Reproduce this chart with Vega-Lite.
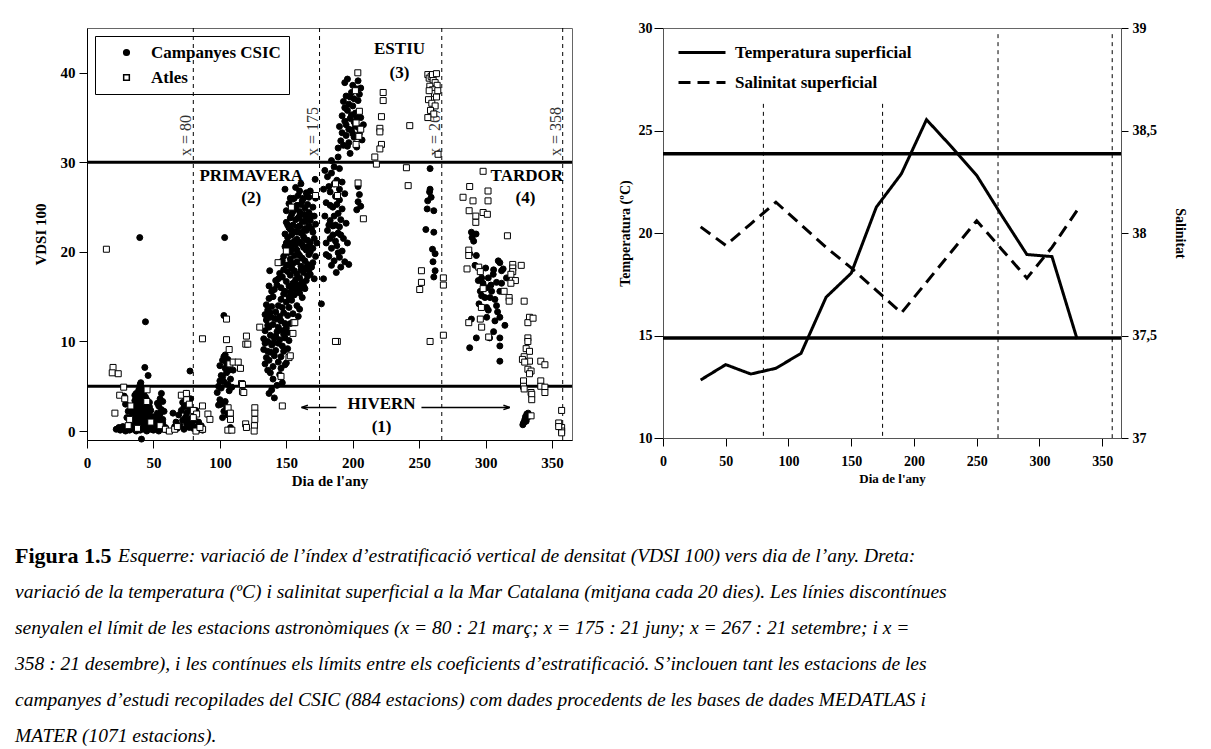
{
"$schema": "https://vega.github.io/schema/vega-lite/v6.json",
"background": "white",
"padding": {"left": 15, "top": 20, "right": 5, "bottom": 5},
"config": {
 "font": "Liberation Serif",
 "view": {"stroke": "#666", "strokeWidth": 1},
 "axis": {"grid": false, "labelFont": "Liberation Serif", "titleFont": "Liberation Serif", "labelFontWeight": "bold", "titleFontWeight": "bold", "domainColor": "black", "tickColor": "black", "labelColor": "black", "titleColor": "black", "labelFlush": false, "labelOverlap": false},
 "legend": {"labelFont": "Liberation Serif", "labelFontWeight": "bold", "labelColor": "black", "labelLimit": 400}
},
"resolve": {"scale": {"shape": "independent", "fill": "independent", "strokeDash": "independent"}, "legend": {"shape": "independent", "fill": "independent", "strokeDash": "independent"}},
"datasets": {
 "st": [
{"d":22,"v":0.2,"g":"C"},{"d":24,"v":0.4,"g":"C"},{"d":25,"v":0.1,"g":"C"},{"d":26,"v":0.3,"g":"C"},{"d":27,"v":0.5,"g":"C"},{"d":28,"v":0.2,"g":"C"},{"d":29,"v":0.0,"g":"C"},{"d":30,"v":0.4,"g":"C"},{"d":31,"v":0.6,"g":"C"},{"d":32,"v":0.1,"g":"C"},{"d":33,"v":0.3,"g":"C"},{"d":34,"v":0.8,"g":"C"},{"d":35,"v":0.2,"g":"C"},{"d":36,"v":0.5,"g":"C"},{"d":37,"v":0.0,"g":"C"},{"d":38,"v":0.7,"g":"C"},{"d":39,"v":0.3,"g":"C"},{"d":40,"v":0.1,"g":"C"},{"d":41,"v":-0.9,"g":"C"},{"d":42,"v":0.4,"g":"C"},{"d":43,"v":0.2,"g":"C"},{"d":44,"v":0.6,"g":"C"},{"d":45,"v":0.0,"g":"C"},{"d":46,"v":0.3,"g":"C"},{"d":47,"v":0.8,"g":"C"},{"d":48,"v":0.2,"g":"C"},{"d":49,"v":0.5,"g":"C"},{"d":50,"v":0.1,"g":"C"},{"d":51,"v":0.4,"g":"C"},{"d":52,"v":0.7,"g":"C"},{"d":53,"v":0.2,"g":"C"},{"d":54,"v":0.0,"g":"C"},{"d":55,"v":0.5,"g":"C"},{"d":56,"v":0.3,"g":"C"},{"d":57,"v":0.6,"g":"C"},{"d":58,"v":0.2,"g":"C"},{"d":59,"v":0.4,"g":"C"},{"d":60,"v":0.1,"g":"C"},
{"d":35,"v":1.2,"g":"C"},{"d":35,"v":2.5,"g":"C"},{"d":36,"v":1.8,"g":"C"},{"d":36,"v":3.4,"g":"C"},{"d":37,"v":2.1,"g":"C"},{"d":37,"v":4.2,"g":"C"},{"d":38,"v":1.0,"g":"C"},{"d":38,"v":2.9,"g":"C"},{"d":38,"v":3.8,"g":"C"},{"d":39,"v":1.5,"g":"C"},{"d":39,"v":2.6,"g":"C"},{"d":39,"v":4.6,"g":"C"},{"d":40,"v":0.9,"g":"C"},{"d":40,"v":2.2,"g":"C"},{"d":40,"v":3.3,"g":"C"},{"d":40,"v":5.2,"g":"C"},{"d":41,"v":1.7,"g":"C"},{"d":41,"v":2.8,"g":"C"},{"d":41,"v":4.0,"g":"C"},{"d":42,"v":1.1,"g":"C"},{"d":42,"v":2.4,"g":"C"},{"d":42,"v":3.6,"g":"C"},{"d":43,"v":1.9,"g":"C"},{"d":43,"v":3.0,"g":"C"},{"d":43,"v":4.4,"g":"C"},{"d":44,"v":1.3,"g":"C"},{"d":44,"v":2.7,"g":"C"},{"d":45,"v":2.0,"g":"C"},{"d":45,"v":3.5,"g":"C"},{"d":46,"v":1.4,"g":"C"},{"d":46,"v":2.6,"g":"C"},{"d":47,"v":1.8,"g":"C"},{"d":47,"v":3.2,"g":"C"},{"d":48,"v":2.3,"g":"C"},{"d":49,"v":1.1,"g":"C"},{"d":50,"v":1.6,"g":"C"},{"d":36,"v":0.9,"g":"C"},{"d":37,"v":1.5,"g":"C"},{"d":38,"v":0.5,"g":"C"},{"d":39,"v":0.7,"g":"C"},
{"d":36,"v":2.0,"g":"C"},{"d":38,"v":3.2,"g":"C"},{"d":40,"v":4.0,"g":"C"},{"d":41,"v":3.5,"g":"C"},{"d":42,"v":2.0,"g":"C"},{"d":43,"v":2.6,"g":"C"},{"d":44,"v":3.8,"g":"C"},{"d":45,"v":1.5,"g":"C"},{"d":46,"v":2.1,"g":"C"},{"d":47,"v":2.7,"g":"C"},{"d":39,"v":3.6,"g":"C"},{"d":37,"v":2.8,"g":"C"},{"d":36,"v":4.0,"g":"C"},{"d":42,"v":4.8,"g":"C"},{"d":44,"v":1.9,"g":"C"},{"d":40,"v":1.3,"g":"C"},{"d":41,"v":0.6,"g":"C"},{"d":43,"v":0.9,"g":"C"},{"d":45,"v":0.7,"g":"C"},{"d":47,"v":1.2,"g":"C"},{"d":49,"v":0.9,"g":"C"},{"d":51,"v":1.1,"g":"C"},{"d":53,"v":0.8,"g":"C"},{"d":55,"v":1.2,"g":"C"},{"d":57,"v":0.9,"g":"C"},
{"d":52,"v":1.2,"g":"C"},{"d":53,"v":2.0,"g":"C"},{"d":54,"v":2.8,"g":"C"},{"d":55,"v":3.6,"g":"C"},{"d":56,"v":4.2,"g":"C"},{"d":54,"v":1.5,"g":"C"},{"d":56,"v":2.4,"g":"C"},{"d":57,"v":1.3,"g":"C"},{"d":53,"v":3.1,"g":"C"},{"d":55,"v":1.9,"g":"C"},{"d":57,"v":3.3,"g":"C"},{"d":58,"v":2.2,"g":"C"},
{"d":28,"v":3.9,"g":"C"},{"d":29,"v":3.0,"g":"C"},{"d":30,"v":1.5,"g":"C"},{"d":31,"v":2.2,"g":"C"},{"d":32,"v":1.4,"g":"C"},{"d":33,"v":2.5,"g":"C"},{"d":34,"v":1.9,"g":"C"},
{"d":39.7,"v":21.6,"g":"C"},{"d":44,"v":12.2,"g":"C"},{"d":43.5,"v":7.1,"g":"C"},{"d":46,"v":6.2,"g":"C"},{"d":40.5,"v":5.4,"g":"C"},
{"d":66,"v":0.5,"g":"C"},{"d":67,"v":1.0,"g":"C"},{"d":68,"v":0.3,"g":"C"},{"d":69,"v":1.8,"g":"C"},{"d":70,"v":0.6,"g":"C"},{"d":71,"v":2.3,"g":"C"},{"d":72,"v":1.2,"g":"C"},{"d":72,"v":3.2,"g":"C"},{"d":73,"v":0.2,"g":"C"},{"d":73,"v":2.7,"g":"C"},{"d":74,"v":1.5,"g":"C"},{"d":74,"v":3.8,"g":"C"},{"d":75,"v":0.8,"g":"C"},{"d":75,"v":2.0,"g":"C"},{"d":75,"v":4.2,"g":"C"},{"d":76,"v":1.1,"g":"C"},{"d":76,"v":3.0,"g":"C"},{"d":77,"v":0.4,"g":"C"},{"d":77,"v":2.4,"g":"C"},{"d":78,"v":3.6,"g":"C"},{"d":78,"v":1.4,"g":"C"},{"d":79,"v":0.7,"g":"C"},{"d":80,"v":0.3,"g":"C"},{"d":81,"v":1.2,"g":"C"},{"d":82,"v":2.3,"g":"C"},{"d":83,"v":0.5,"g":"C"},{"d":84,"v":1.0,"g":"C"},{"d":85,"v":0.2,"g":"C"},{"d":86,"v":0.6,"g":"C"},{"d":87,"v":0.1,"g":"C"},{"d":77.5,"v":6.7,"g":"C"},{"d":64.7,"v":2.0,"g":"C"},
{"d":98,"v":4.3,"g":"C"},{"d":99,"v":5.0,"g":"C"},{"d":100,"v":5.6,"g":"C"},{"d":100,"v":7.3,"g":"C"},{"d":101,"v":6.2,"g":"C"},{"d":101,"v":4.8,"g":"C"},{"d":102,"v":7.9,"g":"C"},{"d":102,"v":6.0,"g":"C"},{"d":103,"v":8.3,"g":"C"},{"d":103,"v":5.5,"g":"C"},{"d":104,"v":7.0,"g":"C"},{"d":104,"v":8.5,"g":"C"},{"d":105,"v":6.5,"g":"C"},{"d":105,"v":7.6,"g":"C"},{"d":106,"v":5.2,"g":"C"},{"d":106,"v":8.0,"g":"C"},{"d":107,"v":6.8,"g":"C"},{"d":104,"v":3.3,"g":"C"},{"d":103,"v":2.2,"g":"C"},{"d":102,"v":1.5,"g":"C"},{"d":105,"v":2.6,"g":"C"},{"d":107,"v":4.5,"g":"C"},{"d":108,"v":5.8,"g":"C"},{"d":103.6,"v":21.6,"g":"C"},{"d":103,"v":12.9,"g":"C"},{"d":100,"v":3.5,"g":"C"},{"d":101,"v":3.0,"g":"C"},{"d":106,"v":1.8,"g":"C"},{"d":108,"v":0.4,"g":"C"},{"d":110,"v":6.8,"g":"C"},{"d":109,"v":4.9,"g":"C"},{"d":99,"v":2.9,"g":"C"},
{"d":137,"v":4.2,"g":"C"},{"d":139,"v":4.6,"g":"C"},{"d":141,"v":3.7,"g":"C"},{"d":143,"v":5.1,"g":"C"},{"d":140,"v":5.8,"g":"C"},{"d":145,"v":6.3,"g":"C"},{"d":138,"v":6.5,"g":"C"},{"d":147,"v":5.4,"g":"C"},{"d":146,"v":7.0,"g":"C"},{"d":149,"v":7.4,"g":"C"},{"d":136,"v":6.8,"g":"C"},
{"d":134,"v":7.5,"g":"C"},{"d":135,"v":8.2,"g":"C"},{"d":137,"v":7.9,"g":"C"},{"d":138,"v":8.8,"g":"C"},{"d":140,"v":7.2,"g":"C"},{"d":141,"v":8.4,"g":"C"},{"d":142,"v":9.0,"g":"C"},{"d":144,"v":7.7,"g":"C"},{"d":146,"v":8.3,"g":"C"},{"d":148,"v":8.9,"g":"C"},{"d":150,"v":7.6,"g":"C"},{"d":151,"v":9.2,"g":"C"},{"d":147,"v":9.5,"g":"C"},{"d":139,"v":9.6,"g":"C"},{"d":133,"v":9.1,"g":"C"},
{"d":133,"v":10.3,"g":"C"},{"d":134,"v":11.2,"g":"C"},{"d":136,"v":10.0,"g":"C"},{"d":137,"v":11.6,"g":"C"},{"d":138,"v":10.7,"g":"C"},{"d":140,"v":11.9,"g":"C"},{"d":141,"v":10.4,"g":"C"},{"d":143,"v":11.1,"g":"C"},{"d":145,"v":10.2,"g":"C"},{"d":148,"v":10.8,"g":"C"},{"d":150,"v":11.5,"g":"C"},{"d":152,"v":10.1,"g":"C"},{"d":153,"v":12.0,"g":"C"},{"d":146,"v":12.3,"g":"C"},{"d":135,"v":12.4,"g":"C"},
{"d":134,"v":13.0,"g":"C"},{"d":135,"v":14.1,"g":"C"},{"d":136,"v":13.5,"g":"C"},{"d":137,"v":14.8,"g":"C"},{"d":138,"v":12.7,"g":"C"},{"d":139,"v":13.9,"g":"C"},{"d":140,"v":15.0,"g":"C"},{"d":142,"v":13.3,"g":"C"},{"d":148,"v":13.2,"g":"C"},{"d":150,"v":14.4,"g":"C"},{"d":151,"v":12.9,"g":"C"},{"d":152,"v":13.8,"g":"C"},{"d":154,"v":14.6,"g":"C"},{"d":155,"v":13.1,"g":"C"},{"d":156,"v":15.2,"g":"C"},{"d":158,"v":14.0,"g":"C"},{"d":160,"v":13.6,"g":"C"},{"d":162,"v":14.9,"g":"C"},{"d":159,"v":12.8,"g":"C"},{"d":157,"v":15.8,"g":"C"},{"d":153,"v":15.5,"g":"C"},
{"d":141,"v":15.8,"g":"C"},{"d":143,"v":16.3,"g":"C"},{"d":146,"v":16.0,"g":"C"},{"d":147,"v":17.2,"g":"C"},{"d":149,"v":15.6,"g":"C"},{"d":150,"v":16.7,"g":"C"},{"d":151,"v":17.8,"g":"C"},{"d":152,"v":16.2,"g":"C"},{"d":153,"v":17.4,"g":"C"},{"d":155,"v":16.5,"g":"C"},{"d":156,"v":17.9,"g":"C"},{"d":157,"v":16.9,"g":"C"},{"d":158,"v":17.5,"g":"C"},{"d":159,"v":16.3,"g":"C"},{"d":160,"v":17.1,"g":"C"},{"d":161,"v":18.0,"g":"C"},{"d":162,"v":16.6,"g":"C"},{"d":163,"v":17.7,"g":"C"},{"d":164,"v":15.9,"g":"C"},{"d":165,"v":16.8,"g":"C"},{"d":166,"v":17.3,"g":"C"},{"d":154,"v":18.2,"g":"C"},{"d":148,"v":18.0,"g":"C"},{"d":137.5,"v":17.9,"g":"C"},{"d":144,"v":17.0,"g":"C"},
{"d":146,"v":18.8,"g":"C"},{"d":148,"v":19.5,"g":"C"},{"d":149,"v":20.6,"g":"C"},{"d":150,"v":18.5,"g":"C"},{"d":151,"v":19.9,"g":"C"},{"d":152,"v":21.0,"g":"C"},{"d":153,"v":19.2,"g":"C"},{"d":154,"v":20.3,"g":"C"},{"d":155,"v":18.7,"g":"C"},{"d":156,"v":19.6,"g":"C"},{"d":157,"v":20.8,"g":"C"},{"d":158,"v":18.9,"g":"C"},{"d":159,"v":19.8,"g":"C"},{"d":160,"v":21.1,"g":"C"},{"d":161,"v":18.4,"g":"C"},{"d":162,"v":19.3,"g":"C"},{"d":163,"v":20.5,"g":"C"},{"d":164,"v":19.0,"g":"C"},{"d":165,"v":20.2,"g":"C"},{"d":166,"v":18.6,"g":"C"},{"d":167,"v":19.7,"g":"C"},{"d":168,"v":21.0,"g":"C"},{"d":170,"v":20.4,"g":"C"},{"d":172,"v":19.5,"g":"C"},{"d":169,"v":18.3,"g":"C"},
{"d":149,"v":22.0,"g":"C"},{"d":150,"v":23.3,"g":"C"},{"d":151,"v":21.6,"g":"C"},{"d":152,"v":22.7,"g":"C"},{"d":153,"v":23.8,"g":"C"},{"d":154,"v":21.9,"g":"C"},{"d":155,"v":23.0,"g":"C"},{"d":156,"v":22.3,"g":"C"},{"d":157,"v":23.6,"g":"C"},{"d":158,"v":21.4,"g":"C"},{"d":159,"v":22.8,"g":"C"},{"d":160,"v":24.0,"g":"C"},{"d":161,"v":22.1,"g":"C"},{"d":162,"v":23.4,"g":"C"},{"d":163,"v":21.7,"g":"C"},{"d":164,"v":22.6,"g":"C"},{"d":165,"v":23.9,"g":"C"},{"d":166,"v":21.3,"g":"C"},{"d":167,"v":22.9,"g":"C"},{"d":168,"v":23.5,"g":"C"},{"d":170,"v":22.2,"g":"C"},{"d":172,"v":23.1,"g":"C"},{"d":171,"v":21.5,"g":"C"},
{"d":150,"v":24.6,"g":"C"},{"d":152,"v":25.4,"g":"C"},{"d":154,"v":24.2,"g":"C"},{"d":155,"v":25.9,"g":"C"},{"d":156,"v":24.8,"g":"C"},{"d":158,"v":25.2,"g":"C"},{"d":159,"v":26.3,"g":"C"},{"d":160,"v":24.5,"g":"C"},{"d":162,"v":25.7,"g":"C"},{"d":164,"v":24.9,"g":"C"},{"d":165,"v":26.6,"g":"C"},{"d":166,"v":25.3,"g":"C"},{"d":168,"v":26.8,"g":"C"},{"d":170,"v":25.0,"g":"C"},{"d":171.7,"v":28.1,"g":"C"},{"d":149,"v":27.0,"g":"C"},{"d":157,"v":27.2,"g":"C"},{"d":161,"v":27.6,"g":"C"},{"d":163,"v":26.0,"g":"C"},{"d":167,"v":24.4,"g":"C"},
{"d":144,"v":9.8,"g":"C"},{"d":149,"v":10.4,"g":"C"},{"d":147,"v":11.2,"g":"C"},{"d":145,"v":12.8,"g":"C"},{"d":149,"v":12.0,"g":"C"},{"d":151,"v":11.0,"g":"C"},{"d":144,"v":14.0,"g":"C"},{"d":146,"v":14.7,"g":"C"},{"d":148,"v":15.3,"g":"C"},{"d":147,"v":13.8,"g":"C"},{"d":143,"v":12.5,"g":"C"},{"d":152,"v":15.0,"g":"C"},{"d":154,"v":16.0,"g":"C"},{"d":156,"v":16.2,"g":"C"},{"d":158,"v":16.0,"g":"C"},{"d":160,"v":15.4,"g":"C"},{"d":161,"v":16.0,"g":"C"},{"d":163,"v":16.2,"g":"C"},{"d":165,"v":18.2,"g":"C"},{"d":167,"v":18.0,"g":"C"},{"d":168,"v":17.5,"g":"C"},{"d":170,"v":18.8,"g":"C"},{"d":171,"v":17.0,"g":"C"},{"d":152,"v":18.6,"g":"C"},{"d":153,"v":20.0,"g":"C"},{"d":155,"v":20.9,"g":"C"},{"d":156,"v":21.2,"g":"C"},{"d":158,"v":20.2,"g":"C"},{"d":160,"v":19.6,"g":"C"},{"d":162,"v":20.8,"g":"C"},{"d":164,"v":21.4,"g":"C"},{"d":166,"v":20.6,"g":"C"},{"d":168,"v":20.0,"g":"C"},{"d":169,"v":22.6,"g":"C"},{"d":171,"v":24.0,"g":"C"},{"d":173,"v":21.0,"g":"C"},{"d":150,"v":21.0,"g":"C"},{"d":151,"v":23.0,"g":"C"},{"d":153,"v":22.5,"g":"C"},{"d":155,"v":24.5,"g":"C"},{"d":157,"v":24.8,"g":"C"},{"d":159,"v":23.8,"g":"C"},{"d":161,"v":25.3,"g":"C"},{"d":163,"v":24.2,"g":"C"},{"d":165,"v":22.4,"g":"C"},{"d":167,"v":26.1,"g":"C"},{"d":169,"v":24.0,"g":"C"},{"d":172,"v":26.0,"g":"C"},{"d":158,"v":22.2,"g":"C"},{"d":160,"v":22.9,"g":"C"},{"d":162,"v":22.2,"g":"C"},{"d":164,"v":23.4,"g":"C"},{"d":166,"v":24.0,"g":"C"},{"d":156,"v":26.0,"g":"C"},{"d":160,"v":26.8,"g":"C"},{"d":153,"v":26.0,"g":"C"},{"d":151,"v":20.5,"g":"C"},{"d":147,"v":19.0,"g":"C"},{"d":145,"v":17.6,"g":"C"},{"d":142,"v":16.8,"g":"C"},{"d":139,"v":15.6,"g":"C"},{"d":137,"v":16.2,"g":"C"},{"d":136,"v":11.8,"g":"C"},{"d":138,"v":13.2,"g":"C"},{"d":134,"v":9.8,"g":"C"},{"d":136,"v":8.9,"g":"C"},{"d":140,"v":9.8,"g":"C"},{"d":142,"v":10.6,"g":"C"},{"d":144,"v":11.6,"g":"C"},{"d":141,"v":12.6,"g":"C"},
{"d":179,"v":29.1,"g":"C"},{"d":184,"v":30.2,"g":"C"},{"d":189,"v":30.6,"g":"C"},{"d":186,"v":29.5,"g":"C"},{"d":181,"v":28.4,"g":"C"},{"d":188,"v":28.0,"g":"C"},{"d":192,"v":27.8,"g":"C"},{"d":178,"v":27.0,"g":"C"},{"d":183,"v":26.7,"g":"C"},{"d":187,"v":26.2,"g":"C"},{"d":190,"v":25.8,"g":"C"},{"d":194,"v":26.5,"g":"C"},{"d":180,"v":25.5,"g":"C"},{"d":185,"v":25.0,"g":"C"},{"d":189,"v":24.3,"g":"C"},{"d":192,"v":24.8,"g":"C"},{"d":179,"v":24.0,"g":"C"},{"d":183,"v":23.5,"g":"C"},{"d":187,"v":23.0,"g":"C"},{"d":191,"v":23.6,"g":"C"},{"d":195,"v":23.2,"g":"C"},{"d":181,"v":22.4,"g":"C"},{"d":185,"v":21.9,"g":"C"},{"d":189,"v":22.1,"g":"C"},{"d":193,"v":21.5,"g":"C"},{"d":180,"v":21.0,"g":"C"},{"d":184,"v":20.4,"g":"C"},{"d":188,"v":20.7,"g":"C"},{"d":192,"v":20.1,"g":"C"},{"d":196,"v":21.0,"g":"C"},{"d":182,"v":19.5,"g":"C"},{"d":186,"v":19.0,"g":"C"},{"d":190,"v":19.4,"g":"C"},{"d":194,"v":18.9,"g":"C"},{"d":180,"v":19.7,"g":"C"},{"d":187.6,"v":17.7,"g":"C"},{"d":191,"v":18.3,"g":"C"},{"d":197,"v":18.6,"g":"C"},{"d":176.4,"v":14.2,"g":"C"},{"d":178,"v":17.0,"g":"C"},{"d":184,"v":28.8,"g":"C"},{"d":190,"v":29.3,"g":"C"},
{"d":182,"v":27.3,"g":"C"},{"d":186,"v":27.6,"g":"C"},{"d":190,"v":27.0,"g":"C"},{"d":183,"v":25.2,"g":"C"},{"d":188,"v":25.3,"g":"C"},{"d":186,"v":24.0,"g":"C"},{"d":182,"v":23.0,"g":"C"},{"d":190,"v":22.8,"g":"C"},{"d":185,"v":22.9,"g":"C"},{"d":187,"v":21.2,"g":"C"},{"d":191,"v":21.9,"g":"C"},{"d":183,"v":21.5,"g":"C"},{"d":184,"v":18.5,"g":"C"},{"d":189,"v":19.9,"g":"C"},
{"d":203,"v":24.7,"g":"C"},{"d":204,"v":25.6,"g":"C"},{"d":205,"v":26.4,"g":"C"},{"d":204,"v":27.3,"g":"C"},{"d":206,"v":25.1,"g":"C"},
{"d":189,"v":31.6,"g":"C"},{"d":191,"v":32.4,"g":"C"},{"d":193,"v":31.9,"g":"C"},{"d":195,"v":33.0,"g":"C"},{"d":197,"v":32.2,"g":"C"},{"d":199,"v":33.6,"g":"C"},{"d":201,"v":32.8,"g":"C"},{"d":203,"v":31.7,"g":"C"},{"d":205,"v":33.2,"g":"C"},{"d":207,"v":32.5,"g":"C"},{"d":190,"v":34.0,"g":"C"},{"d":192,"v":35.2,"g":"C"},{"d":194,"v":34.6,"g":"C"},{"d":196,"v":35.8,"g":"C"},{"d":198,"v":34.9,"g":"C"},{"d":200,"v":36.3,"g":"C"},{"d":202,"v":35.5,"g":"C"},{"d":204,"v":36.9,"g":"C"},{"d":206,"v":35.0,"g":"C"},{"d":193,"v":36.8,"g":"C"},{"d":195,"v":37.4,"g":"C"},{"d":197,"v":36.5,"g":"C"},{"d":199,"v":37.8,"g":"C"},{"d":201,"v":37.1,"g":"C"},{"d":203,"v":38.2,"g":"C"},{"d":205,"v":37.6,"g":"C"},{"d":194,"v":38.9,"g":"C"},{"d":204,"v":39.1,"g":"C"},{"d":196,"v":39.3,"g":"C"},{"d":200,"v":38.6,"g":"C"},{"d":208,"v":34.2,"g":"C"},{"d":192,"v":33.3,"g":"C"},{"d":198,"v":31.0,"g":"C"},{"d":202,"v":34.1,"g":"C"},{"d":206,"v":38.3,"g":"C"},
{"d":195,"v":34.2,"g":"C"},{"d":199,"v":35.3,"g":"C"},{"d":201,"v":34.5,"g":"C"},{"d":197,"v":33.7,"g":"C"},{"d":203,"v":35.0,"g":"C"},{"d":194,"v":36.1,"g":"C"},{"d":198,"v":37.3,"g":"C"},{"d":200,"v":33.2,"g":"C"},{"d":196,"v":31.8,"g":"C"},{"d":204,"v":33.9,"g":"C"},
{"d":258.2,"v":29.3,"g":"C"},{"d":258.2,"v":27.0,"g":"C"},{"d":257.8,"v":26.7,"g":"C"},{"d":259,"v":26.1,"g":"C"},{"d":256.4,"v":25.7,"g":"C"},{"d":256,"v":24.8,"g":"C"},{"d":261,"v":24.6,"g":"C"},{"d":255,"v":22.5,"g":"C"},{"d":261,"v":22.2,"g":"C"},{"d":260,"v":20.3,"g":"C"},{"d":262,"v":19.8,"g":"C"},{"d":260.4,"v":18.9,"g":"C"},{"d":262,"v":17.9,"g":"C"},{"d":261,"v":17.2,"g":"C"},
{"d":289.3,"v":22.2,"g":"C"},{"d":289.8,"v":21.6,"g":"C"},{"d":291,"v":21.2,"g":"C"},{"d":288,"v":19.8,"g":"C"},{"d":293,"v":19.6,"g":"C"},{"d":297,"v":17.1,"g":"C"},{"d":302,"v":17.1,"g":"C"},{"d":305.7,"v":17.5,"g":"C"},{"d":310.7,"v":18.8,"g":"C"},{"d":313.2,"v":18.1,"g":"C"},{"d":294.5,"v":16.8,"g":"C"},{"d":300.8,"v":16.0,"g":"C"},{"d":308.2,"v":16.6,"g":"C"},{"d":310.7,"v":15.6,"g":"C"},{"d":315.7,"v":17.1,"g":"C"},{"d":297,"v":15.1,"g":"C"},{"d":303.3,"v":14.9,"g":"C"},{"d":307,"v":14.7,"g":"C"},{"d":300.8,"v":13.8,"g":"C"},{"d":308.2,"v":14.0,"g":"C"},{"d":289.3,"v":12.5,"g":"C"},{"d":300.8,"v":12.7,"g":"C"},{"d":307,"v":12.3,"g":"C"},{"d":310.7,"v":12.7,"g":"C"},{"d":314.5,"v":11.8,"g":"C"},{"d":293,"v":10.4,"g":"C"},{"d":303,"v":10.4,"g":"C"},{"d":310.7,"v":10.4,"g":"C"},{"d":288,"v":9.3,"g":"C"},{"d":310.7,"v":9.5,"g":"C"},{"d":310.7,"v":7.8,"g":"C"},{"d":292.8,"v":22.0,"g":"C"},{"d":309.5,"v":19.0,"g":"C"},{"d":312,"v":17.9,"g":"C"},{"d":299.5,"v":14.9,"g":"C"},{"d":304.5,"v":15.6,"g":"C"},{"d":296,"v":15.6,"g":"C"},
{"d":292,"v":18.5,"g":"C"},{"d":298,"v":16.5,"g":"C"},{"d":304,"v":16.3,"g":"C"},{"d":306,"v":18.0,"g":"C"},{"d":300,"v":18.2,"g":"C"},{"d":295,"v":14.2,"g":"C"},{"d":302,"v":13.5,"g":"C"},{"d":306,"v":11.1,"g":"C"},{"d":312,"v":16.5,"g":"C"},{"d":309,"v":13.3,"g":"C"},
{"d":328,"v":0.7,"g":"C"},{"d":329,"v":1.0,"g":"C"},{"d":329.5,"v":1.3,"g":"C"},{"d":330,"v":1.6,"g":"C"},{"d":331,"v":1.9,"g":"C"},{"d":332,"v":2.0,"g":"C"},{"d":330.5,"v":1.1,"g":"C"},{"d":331.5,"v":1.5,"g":"C"},{"d":328.5,"v":0.9,"g":"C"},
{"d":14.6,"v":20.3,"g":"A"},{"d":19.6,"v":7.1,"g":"A"},{"d":19,"v":6.5,"g":"A"},{"d":23.5,"v":6.4,"g":"A"},{"d":21,"v":2.0,"g":"A"},{"d":24.6,"v":4.0,"g":"A"},{"d":27.6,"v":4.9,"g":"A"},{"d":28.4,"v":3.6,"g":"A"},{"d":32.1,"v":1.3,"g":"A"},{"d":31,"v":0.6,"g":"A"},{"d":33,"v":2.8,"g":"A"},{"d":38,"v":0.3,"g":"A"},{"d":45.2,"v":4.6,"g":"A"},{"d":45,"v":3.3,"g":"A"},{"d":48,"v":1.0,"g":"A"},{"d":55,"v":0.6,"g":"A"},{"d":59,"v":0.2,"g":"A"},{"d":62,"v":0.0,"g":"A"},{"d":66,"v":0.2,"g":"A"},{"d":68,"v":0.5,"g":"A"},{"d":71,"v":4.0,"g":"A"},{"d":74.8,"v":4.2,"g":"A"},{"d":75,"v":3.5,"g":"A"},{"d":80,"v":2.3,"g":"A"},{"d":82.5,"v":1.9,"g":"A"},{"d":86.9,"v":2.8,"g":"A"},{"d":87,"v":0.2,"g":"A"},{"d":82,"v":0.0,"g":"A"},{"d":85,"v":0.4,"g":"A"},{"d":91,"v":1.9,"g":"A"},{"d":92.5,"v":1.3,"g":"A"},{"d":86.9,"v":10.3,"g":"A"},{"d":80,"v":1.5,"g":"A"},{"d":77,"v":3.0,"g":"A"},
{"d":105,"v":12.5,"g":"A"},{"d":105,"v":10.2,"g":"A"},{"d":107,"v":9.1,"g":"A"},{"d":107.5,"v":7.5,"g":"A"},{"d":110,"v":7.7,"g":"A"},{"d":113.8,"v":7.7,"g":"A"},{"d":115.5,"v":7.0,"g":"A"},{"d":116.3,"v":5.3,"g":"A"},{"d":117,"v":4.4,"g":"A"},{"d":120,"v":10.6,"g":"A"},{"d":119.5,"v":9.7,"g":"A"},{"d":106.2,"v":2.6,"g":"A"},{"d":107.9,"v":2.0,"g":"A"},{"d":108,"v":1.3,"g":"A"},{"d":106,"v":0.1,"g":"A"},{"d":109,"v":0.1,"g":"A"},{"d":119.4,"v":0.8,"g":"A"},{"d":120,"v":0.4,"g":"A"},{"d":126.3,"v":2.6,"g":"A"},{"d":126.3,"v":2.0,"g":"A"},{"d":126.3,"v":1.3,"g":"A"},{"d":126,"v":0.6,"g":"A"},{"d":125.8,"v":0.0,"g":"A"},{"d":130,"v":11.6,"g":"A"},{"d":143.8,"v":18.8,"g":"A"},{"d":147,"v":2.8,"g":"A"},{"d":152,"v":8.2,"g":"A"},{"d":153,"v":8.4,"g":"A"},{"d":155,"v":10.9,"g":"A"},{"d":155.5,"v":12.1,"g":"A"},{"d":188.4,"v":10.0,"g":"A"},{"d":153.8,"v":25.0,"g":"A"},{"d":172,"v":26.3,"g":"A"},{"d":187,"v":27.6,"g":"A"},{"d":188.5,"v":26.3,"g":"A"},{"d":208,"v":23.7,"g":"A"},{"d":204,"v":27.7,"g":"A"},{"d":150,"v":20.1,"g":"A"},{"d":156.4,"v":12.1,"g":"A"},{"d":121,"v":9.7,"g":"A"},{"d":146,"v":6.1,"g":"A"},{"d":117,"v":5.2,"g":"A"},{"d":118,"v":4.3,"g":"A"},
{"d":203.8,"v":40.0,"g":"A"},{"d":202,"v":38.0,"g":"A"},{"d":205,"v":35.7,"g":"A"},{"d":202.5,"v":34.4,"g":"A"},{"d":206,"v":33.7,"g":"A"},{"d":204.6,"v":32.9,"g":"A"},{"d":202.5,"v":32.0,"g":"A"},{"d":222.9,"v":37.8,"g":"A"},{"d":222.9,"v":36.9,"g":"A"},{"d":221.6,"v":35.1,"g":"A"},{"d":220.4,"v":33.8,"g":"A"},{"d":220.4,"v":33.4,"g":"A"},{"d":221.6,"v":32.0,"g":"A"},{"d":220.4,"v":31.5,"g":"A"},{"d":216.6,"v":30.6,"g":"A"},{"d":217.8,"v":29.8,"g":"A"},{"d":242.9,"v":34.1,"g":"A"},{"d":240.4,"v":29.4,"g":"A"},{"d":241.7,"v":27.4,"g":"A"},{"d":251.7,"v":17.9,"g":"A"},{"d":251.7,"v":16.6,"g":"A"},{"d":250.4,"v":15.8,"g":"A"},{"d":187,"v":10.0,"g":"A"},{"d":258,"v":39.5,"g":"A"},
{"d":256.5,"v":39.8,"g":"A"},{"d":257.5,"v":39.4,"g":"A"},{"d":259,"v":39.6,"g":"A"},{"d":260.5,"v":39.2,"g":"A"},{"d":262,"v":38.9,"g":"A"},{"d":263.5,"v":38.6,"g":"A"},{"d":258,"v":38.5,"g":"A"},{"d":260,"v":38.1,"g":"A"},{"d":261.5,"v":37.7,"g":"A"},{"d":263,"v":37.3,"g":"A"},{"d":257,"v":37.0,"g":"A"},{"d":259.5,"v":36.6,"g":"A"},{"d":262,"v":36.3,"g":"A"},{"d":258.5,"v":35.8,"g":"A"},{"d":261,"v":35.4,"g":"A"},{"d":256.5,"v":35.0,"g":"A"},{"d":260,"v":39.8,"g":"A"},{"d":263,"v":39.9,"g":"A"},{"d":264,"v":38.0,"g":"A"},{"d":257.5,"v":38.0,"g":"A"},
{"d":264.2,"v":30.9,"g":"A"},{"d":268.2,"v":17.1,"g":"A"},{"d":268.2,"v":16.3,"g":"A"},{"d":268.2,"v":10.7,"g":"A"},{"d":258.2,"v":10.0,"g":"A"},
{"d":298.1,"v":29.0,"g":"A"},{"d":288,"v":27.3,"g":"A"},{"d":283,"v":26.1,"g":"A"},{"d":290.5,"v":25.7,"g":"A"},{"d":301.8,"v":26.8,"g":"A"},{"d":301.8,"v":25.7,"g":"A"},{"d":287.6,"v":24.6,"g":"A"},{"d":292.6,"v":24.0,"g":"A"},{"d":292.6,"v":23.3,"g":"A"},{"d":298.1,"v":24.4,"g":"A"},{"d":301.3,"v":24.2,"g":"A"},{"d":316.4,"v":21.8,"g":"A"},{"d":287.3,"v":20.2,"g":"A"},{"d":287.3,"v":19.6,"g":"A"},{"d":286,"v":18.1,"g":"A"},{"d":294.8,"v":18.3,"g":"A"},{"d":296,"v":17.8,"g":"A"},{"d":298.1,"v":15.9,"g":"A"},{"d":296.8,"v":13.8,"g":"A"},{"d":287.3,"v":12.1,"g":"A"},{"d":296,"v":12.5,"g":"A"},{"d":297,"v":11.6,"g":"A"},{"d":302.3,"v":10.5,"g":"A"},{"d":320.4,"v":18.6,"g":"A"},{"d":320.4,"v":18.2,"g":"A"},{"d":320.4,"v":17.8,"g":"A"},{"d":319,"v":17.5,"g":"A"},{"d":326.8,"v":18.5,"g":"A"},{"d":322.4,"v":16.8,"g":"A"},{"d":319,"v":16.5,"g":"A"},{"d":317.7,"v":14.9,"g":"A"},{"d":317.7,"v":14.5,"g":"A"},{"d":313.9,"v":15.6,"g":"A"},
{"d":329,"v":14.5,"g":"A"},{"d":333,"v":12.7,"g":"A"},{"d":331.8,"v":12.1,"g":"A"},{"d":331.8,"v":10.4,"g":"A"},{"d":331.8,"v":10.0,"g":"A"},{"d":330.5,"v":9.2,"g":"A"},{"d":333,"v":8.9,"g":"A"},{"d":329,"v":8.3,"g":"A"},{"d":333,"v":7.8,"g":"A"},{"d":327.7,"v":8.0,"g":"A"},{"d":331.8,"v":6.9,"g":"A"},{"d":334.2,"v":6.7,"g":"A"},{"d":341.5,"v":7.8,"g":"A"},{"d":328.5,"v":5.6,"g":"A"},{"d":328.5,"v":5.0,"g":"A"},{"d":329,"v":4.7,"g":"A"},{"d":334.2,"v":4.3,"g":"A"},{"d":341.5,"v":5.6,"g":"A"},{"d":341.5,"v":5.0,"g":"A"},{"d":334.2,"v":1.7,"g":"A"},{"d":335.7,"v":12.6,"g":"A"},{"d":334.7,"v":4.1,"g":"A"},{"d":334.7,"v":3.5,"g":"A"},{"d":344.6,"v":7.4,"g":"A"},{"d":344.6,"v":4.9,"g":"A"},{"d":344.6,"v":4.3,"g":"A"},{"d":329.4,"v":7.7,"g":"A"},{"d":333,"v":6.4,"g":"A"},{"d":357.2,"v":2.3,"g":"A"},{"d":357.2,"v":0.4,"g":"A"},{"d":357.2,"v":0.0,"g":"A"},{"d":357.2,"v":-0.2,"g":"A"},{"d":355,"v":0.9,"g":"A"},{"d":355,"v":0.5,"g":"A"}
 ],
 "temp": [
{"d":30,"t":12.83,"serie":"Temperatura superficial"},{"d":50,"t":13.58,"serie":"Temperatura superficial"},{"d":70,"t":13.12,"serie":"Temperatura superficial"},{"d":90,"t":13.4,"serie":"Temperatura superficial"},{"d":110,"t":14.13,"serie":"Temperatura superficial"},{"d":130,"t":16.87,"serie":"Temperatura superficial"},{"d":150,"t":18.04,"serie":"Temperatura superficial"},{"d":170,"t":21.26,"serie":"Temperatura superficial"},{"d":190,"t":22.89,"serie":"Temperatura superficial"},{"d":210,"t":25.53,"serie":"Temperatura superficial"},{"d":230,"t":24.2,"serie":"Temperatura superficial"},{"d":250,"t":22.81,"serie":"Temperatura superficial"},{"d":270,"t":20.85,"serie":"Temperatura superficial"},{"d":290,"t":18.95,"serie":"Temperatura superficial"},{"d":310,"t":18.85,"serie":"Temperatura superficial"},{"d":330,"t":14.83,"serie":"Temperatura superficial"}
 ],
 "sal": [
{"d":30,"s":38.03,"serie":"Salinitat superficial"},{"d":50,"s":37.94,"serie":"Salinitat superficial"},{"d":70,"s":38.045,"serie":"Salinitat superficial"},{"d":90,"s":38.15,"serie":"Salinitat superficial"},{"d":110,"s":38.04,"serie":"Salinitat superficial"},{"d":130,"s":37.93,"serie":"Salinitat superficial"},{"d":150,"s":37.83,"serie":"Salinitat superficial"},{"d":170,"s":37.72,"serie":"Salinitat superficial"},{"d":190,"s":37.61,"serie":"Salinitat superficial"},{"d":210,"s":37.76,"serie":"Salinitat superficial"},{"d":230,"s":37.91,"serie":"Salinitat superficial"},{"d":250,"s":38.06,"serie":"Salinitat superficial"},{"d":270,"s":37.92,"serie":"Salinitat superficial"},{"d":290,"s":37.78,"serie":"Salinitat superficial"},{"d":310,"s":37.93,"serie":"Salinitat superficial"},{"d":330,"s":38.11,"serie":"Salinitat superficial"}
 ]
},
"vconcat": [
 {"hconcat": [
  {
   "width": 485, "height": 412,
   "layer": [
    {"data": {"values": [{"d":80},{"d":175},{"d":267},{"d":358}]},
     "mark": {"type": "rule", "color": "black", "strokeWidth": 1, "strokeDash": [4, 4]},
     "encoding": {"x": {"field": "d", "type": "quantitative", "scale": {"domain": [0, 365], "nice": false, "zero": false}}}},
    {"data": {"values": [{"d":80,"t":"x = 80"},{"d":175,"t":"x = 175"},{"d":267,"t":"x = 267"},{"d":358,"t":"x = 358"}]},
     "mark": {"type": "text", "angle": 270, "align": "left", "baseline": "alphabetic", "dy": -2, "font": "Liberation Serif", "fontSize": 16, "color": "#333"},
     "encoding": {"x": {"field": "d", "type": "quantitative", "scale": {"domain": [0, 365], "nice": false, "zero": false}}, "y": {"datum": 30.7, "type": "quantitative", "scale": {"domain": [-1, 45], "nice": false, "zero": false}}, "text": {"field": "t"}}},
    {"data": {"values": [{"v":30},{"v":5}]},
     "mark": {"type": "rule", "color": "black", "strokeWidth": 3},
     "encoding": {"y": {"field": "v", "type": "quantitative", "scale": {"domain": [-1, 45], "nice": false, "zero": false}}}},
    {"data": {"name": "st"},
     "mark": {"type": "point", "filled": true, "stroke": "black", "strokeWidth": 1, "size": 36, "opacity": 1},
     "encoding": {
      "x": {"field": "d", "type": "quantitative", "scale": {"domain": [0, 365], "nice": false, "zero": false}, "axis": {"values": [0,50,100,150,200,250,300,350], "title": "Dia de l'any", "tickSize": 8, "labelFontSize": 15, "titleFontSize": 15, "labelPadding": 7, "titlePadding": 3}},
      "y": {"field": "v", "type": "quantitative", "scale": {"domain": [-1, 45], "nice": false, "zero": false}, "axis": {"values": [0,10,20,30,40], "title": "VDSI 100", "tickSize": 8, "labelFontSize": 15, "titleFontSize": 15, "labelPadding": 4, "titlePadding": 12}},
      "shape": {"field": "g", "type": "nominal", "scale": {"domain": ["C","A"], "range": ["circle","square"]}, "legend": {"title": null, "orient": "top-left", "offset": 8, "strokeColor": "black", "padding": 8, "labelExpr": "datum.label == 'C' ? 'Campanyes CSIC' : 'Atles'", "labelFontSize": 17, "labelOffset": 16, "symbolOffset": 15, "symbolSize": 32, "rowPadding": 7, "encode": {"symbols": {"update": {"stroke": {"value": "black"}, "strokeWidth": {"value": 1}}}}}},
      "fill": {"field": "g", "type": "nominal", "scale": {"domain": ["C","A"], "range": ["black","white"]}, "legend": {"title": null, "orient": "top-left", "offset": 8, "strokeColor": "black", "padding": 8, "labelExpr": "datum.label == 'C' ? 'Campanyes CSIC' : 'Atles'", "labelFontSize": 17, "labelOffset": 16, "symbolOffset": 15, "symbolSize": 32, "rowPadding": 7, "encode": {"symbols": {"update": {"stroke": {"value": "black"}, "strokeWidth": {"value": 1}}}}}}
     }},
    {"data": {"values": [{"t":"PRIMAVERA","d":123.6,"v":28.5},{"t":"(2)","d":123.6,"v":26.0},{"t":"ESTIU","d":235.2,"v":42.6},{"t":"(3)","d":235.2,"v":40.0},{"t":"TARDOR","d":331,"v":28.5},{"t":"(4)","d":330,"v":26.0},{"t":"HIVERN","d":221.7,"v":3.0},{"t":"(1)","d":221.7,"v":0.5}]},
     "mark": {"type": "text", "font": "Liberation Serif", "fontWeight": "bold", "fontSize": 17, "color": "black", "baseline": "middle", "align": "center"},
     "encoding": {"x": {"field": "d", "type": "quantitative", "scale": {"domain": [0, 365], "nice": false, "zero": false}}, "y": {"field": "v", "type": "quantitative", "scale": {"domain": [-1, 45], "nice": false, "zero": false}}, "text": {"field": "t"}}},
    {"data": {"values": [{"d":161.4,"d2":187.7,"v":2.64},{"d":251.7,"d2":318.2,"v":2.64}]},
     "mark": {"type": "rule", "color": "black", "strokeWidth": 1.5},
     "encoding": {"x": {"field": "d", "type": "quantitative", "scale": {"domain": [0, 365], "nice": false, "zero": false}}, "x2": {"field": "d2"}, "y": {"field": "v", "type": "quantitative", "scale": {"domain": [-1, 45], "nice": false, "zero": false}}}},
    {"data": {"values": [{"d":161.4,"v":2.64}]},
     "mark": {"type": "point", "shape": "M0,0L1.6,-0.55M0,0L1.6,0.55", "size": 64, "filled": false, "stroke": "black", "strokeWidth": 1.5, "opacity": 1},
     "encoding": {"x": {"field": "d", "type": "quantitative", "scale": {"domain": [0, 365], "nice": false, "zero": false}}, "y": {"field": "v", "type": "quantitative", "scale": {"domain": [-1, 45], "nice": false, "zero": false}}}},
    {"data": {"values": [{"d":318.2,"v":2.64}]},
     "mark": {"type": "point", "shape": "M0,0L-1.6,-0.55M0,0L-1.6,0.55", "size": 64, "filled": false, "stroke": "black", "strokeWidth": 1.5, "opacity": 1},
     "encoding": {"x": {"field": "d", "type": "quantitative", "scale": {"domain": [0, 365], "nice": false, "zero": false}}, "y": {"field": "v", "type": "quantitative", "scale": {"domain": [-1, 45], "nice": false, "zero": false}}}}
   ]
  },
  {
   "width": 458, "height": 410,
   "layer": [
    {"layer": [
      {"data": {"values": [{"d":80,"t":26.3},{"d":175,"t":26.3},{"d":267,"t":29.7},{"d":358,"t":29.7}]},
       "mark": {"type": "rule", "color": "black", "strokeWidth": 1, "strokeDash": [4, 4]},
       "encoding": {"x": {"field": "d", "type": "quantitative", "scale": {"domain": [0, 365], "nice": false, "zero": false}}, "y": {"field": "t", "type": "quantitative", "scale": {"domain": [10, 30], "nice": false, "zero": false}}, "y2": {"datum": 10}}},
      {"data": {"values": [{"t":23.87},{"t":14.88}]},
       "mark": {"type": "rule", "color": "black", "strokeWidth": 3.5},
       "encoding": {"y": {"field": "t", "type": "quantitative", "scale": {"domain": [10, 30], "nice": false, "zero": false}}}},
      {"data": {"name": "temp"},
       "mark": {"type": "line", "color": "black", "strokeWidth": 3},
       "encoding": {
        "x": {"field": "d", "type": "quantitative", "scale": {"domain": [0, 365], "nice": false, "zero": false}, "axis": {"values": [0,50,100,150,200,250,300,350], "title": "Dia de l'any", "tickSize": 8, "labelFontSize": 14, "titleFontSize": 13, "labelPadding": 8, "titlePadding": 4, "domainColor": "#555"}},
        "y": {"field": "t", "type": "quantitative", "scale": {"domain": [10, 30], "nice": false, "zero": false}, "axis": {"values": [10,15,20,25,30], "title": "Temperatura (ºC)", "tickSize": 9, "labelFontSize": 14, "titleFontSize": 14, "labelPadding": 2, "titlePadding": 6, "domainColor": "#555"}},
        "strokeDash": {"field": "serie", "type": "nominal", "scale": {"domain": ["Temperatura superficial", "Salinitat superficial"], "range": [[1, 0], [12, 7]]}, "legend": {"title": null, "orient": "top-left", "offset": 14, "padding": 0, "symbolType": "stroke", "symbolSize": 2209, "symbolStrokeWidth": 3, "symbolStrokeColor": "black", "clipHeight": 21, "rowPadding": 9, "labelOffset": 8, "labelFontSize": 17, "labelLimit": 400}}
       }}
    ]},
    {"data": {"name": "sal"},
     "mark": {"type": "line", "color": "black", "strokeWidth": 3},
     "encoding": {
      "x": {"field": "d", "type": "quantitative", "scale": {"domain": [0, 365], "nice": false, "zero": false}},
      "y": {"field": "s", "type": "quantitative", "scale": {"domain": [37, 39], "nice": false, "zero": false}, "axis": {"orient": "right", "values": [37, 37.5, 38, 38.5, 39], "labelExpr": "replace(format(datum.value, '.1~f'), '.', ',')", "title": "Salinitat", "tickSize": 7, "labelFontSize": 14, "titleFontSize": 14, "labelPadding": 4, "titlePadding": 16, "domainColor": "#555"}},
      "strokeDash": {"field": "serie", "type": "nominal", "scale": {"domain": ["Temperatura superficial", "Salinitat superficial"], "range": [[1, 0], [12, 7]]}, "legend": {"title": null, "orient": "top-left", "offset": 14, "padding": 0, "symbolType": "stroke", "symbolSize": 2209, "symbolStrokeWidth": 3, "symbolStrokeColor": "black", "clipHeight": 21, "rowPadding": 9, "labelOffset": 8, "labelFontSize": 17, "labelLimit": 400}}
     }}
   ],
   "resolve": {"scale": {"y": "independent"}}
  }
 ], "spacing": 43,
 "resolve": {"scale": {"shape": "independent", "fill": "independent", "strokeDash": "independent"}, "legend": {"shape": "independent", "fill": "independent", "strokeDash": "independent"}}},
 {
  "width": 1120, "height": 180,
  "view": {"stroke": null},
  "data": {"values": [
   {"l":1,"k":"b","t":"Figura 1.5"},
   {"l":1,"k":"a","t":"Esquerre: variació de l’índex d’estratificació vertical de densitat (VDSI 100) vers dia de l’any. Dreta:"},
   {"l":2,"k":"c","t":"variació de la temperatura (ºC) i salinitat superficial a la Mar Catalana (mitjana cada 20 dies). Les línies discontínues"},
   {"l":3,"k":"c","t":"senyalen el límit de les estacions astronòmiques (x = 80 : 21 març; x = 175 : 21 juny; x = 267 : 21 setembre; i x ="},
   {"l":4,"k":"c","t":"358 : 21 desembre), i les contínues els límits entre els coeficients d’estratificació. S’inclouen tant les estacions de les"},
   {"l":5,"k":"c","t":"campanyes d’estudi recopilades del CSIC (884 estacions) com dades procedents de les bases de dades MEDATLAS i"},
   {"l":6,"k":"c","t":"MATER (1071 estacions)."}
  ]},
  "layer": [
   {"transform": [{"filter": "datum.k == 'b'"}],
    "mark": {"type": "text", "align": "left", "baseline": "middle", "font": "Liberation Serif", "fontSize": 22, "fontWeight": "bold", "color": "black", "dx": -72},
    "encoding": {"x": {"datum": 0, "type": "quantitative", "scale": {"domain": [0, 1]}, "axis": null}, "y": {"field": "l", "type": "ordinal", "scale": {"type": "point", "padding": 0, "domain": [1,2,3,4,5,6]}, "axis": null}, "text": {"field": "t"}}},
   {"transform": [{"filter": "datum.k == 'a'"}],
    "mark": {"type": "text", "align": "left", "baseline": "middle", "font": "Liberation Serif", "fontSize": 19.5, "fontStyle": "italic", "color": "black", "dx": 31},
    "encoding": {"x": {"datum": 0, "type": "quantitative", "scale": {"domain": [0, 1]}, "axis": null}, "y": {"field": "l", "type": "ordinal", "scale": {"type": "point", "padding": 0, "domain": [1,2,3,4,5,6]}, "axis": null}, "text": {"field": "t"}}},
   {"transform": [{"filter": "datum.k == 'c'"}],
    "mark": {"type": "text", "align": "left", "baseline": "middle", "font": "Liberation Serif", "fontSize": 19.5, "fontStyle": "italic", "color": "black", "dx": -72},
    "encoding": {"x": {"datum": 0, "type": "quantitative", "scale": {"domain": [0, 1]}, "axis": null}, "y": {"field": "l", "type": "ordinal", "scale": {"type": "point", "padding": 0, "domain": [1,2,3,4,5,6]}, "axis": null}, "text": {"field": "t"}}}
  ]
 }
],
"spacing": 56
}
